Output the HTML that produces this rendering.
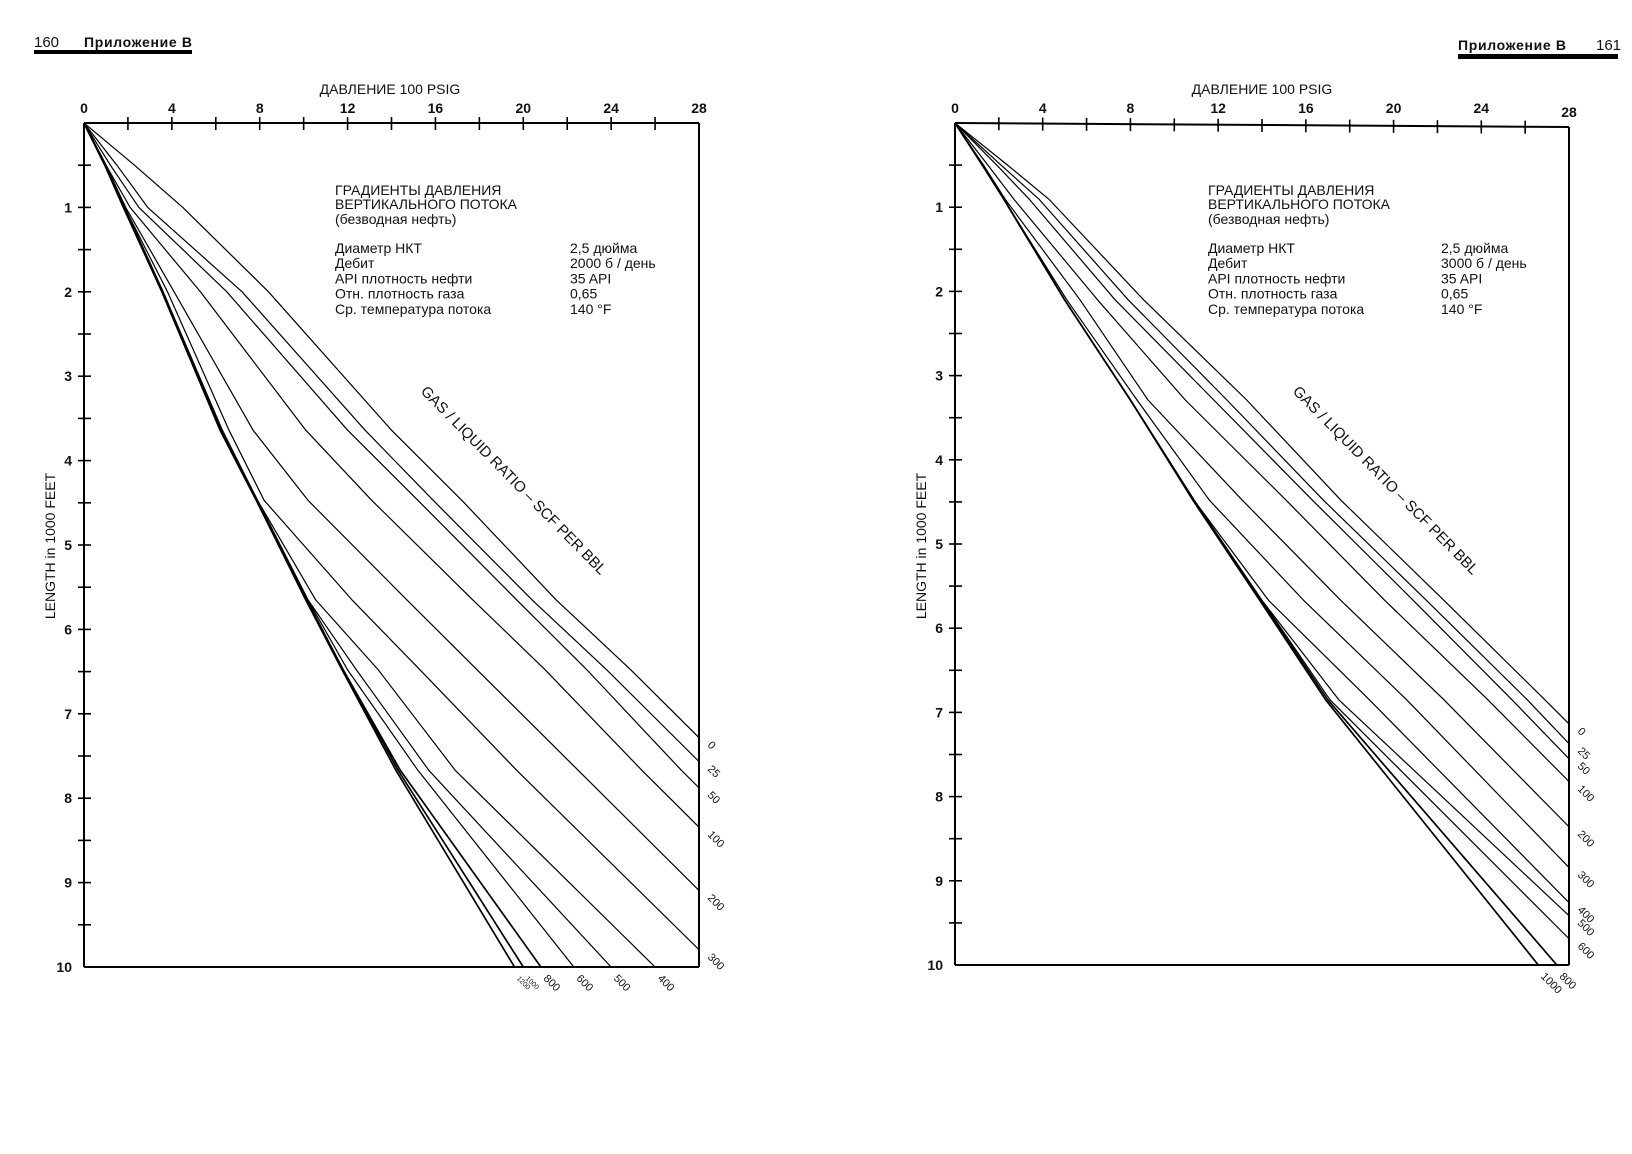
<!DOCTYPE html>
<html><head><meta charset="utf-8">
<style>
html,body{margin:0;padding:0;background:#fff;}
svg{display:block;}
text{font-family:"Liberation Sans",sans-serif;fill:#111;}
</style></head>
<body>
<svg id="chart" width="1632" height="1154" viewBox="0 0 1632 1154" xmlns="http://www.w3.org/2000/svg">
<defs>
<clipPath id="clipL"><rect x="84" y="123" width="615" height="844"/></clipPath>
<clipPath id="clipR"><rect x="955" y="123" width="614" height="842"/></clipPath>
</defs>
<g>
<text x="34" y="47" font-size="15" font-family="Liberation Serif">160</text>
<text x="84" y="47" font-size="14" font-weight="bold" textLength="108">Приложение В</text>
<rect x="34" y="50" width="158" height="4" fill="#000"/>
</g>
<g>
<text x="1458" y="50" font-size="14" font-weight="bold" textLength="108">Приложение В</text>
<text x="1596" y="50" font-size="15" font-family="Liberation Serif">161</text>
<rect x="1458" y="54" width="160" height="5" fill="#000"/>
</g>
<g id="left"></g>
<g id="right"></g>
</svg>
<script>
const NS="http://www.w3.org/2000/svg";
const pressureTicks=[0,4,8,12,16,20,24,28];
const depthTicks=[1,2,3,4,5,6,7,8,9,10];
const glrLeft=["0","25","50","100","200","300","400","500","600","800","1000","1200"];
const depthsLeft=[0,0.5,1,2,3.64,4.47,5.65,6.48,7.67,10];
const pLeft0=[0,2.3,4.5,8.4,14.0,17.2,21.5,24.9,29.5,38.5];
const pLeft25=[0,1.5,2.9,7.2,12.8,15.9,20.4,23.8,28.4,37.5];
const pLeft50=[0,1.2,2.5,6.5,12.0,15.2,19.7,22.9,27.2,36.2];
const pLeft100=[0,1.0,2.1,5.3,10.1,13.1,17.7,21.0,25.4,34.4];
const pLeft200=[0,1.0,1.9,4.1,7.7,10.2,14.7,17.9,22.5,31.5];
const pLeft300=[0,1.0,1.85,3.8,6.6,8.2,12.2,15.3,19.7,28.8];
const pLeft400=[0,1.0,1.85,3.6,6.3,7.9,10.55,13.4,16.9,26.0];
const pLeft500=[0,1.0,1.85,3.6,6.26,7.9,10.2,12.4,15.7,24.0];
const pLeft600=[0,0.95,1.85,3.6,6.26,7.9,10.2,12.0,15.2,22.3];
const pLeft800=[0,0.95,1.8,3.55,6.2,7.85,10.15,11.8,14.4,20.8];
const pLeft1000=[0,0.95,1.8,3.55,6.2,7.85,10.1,11.8,14.3,20.0];
const pLeft1200=[0,0.95,1.8,3.55,6.2,7.85,10.1,11.75,14.2,19.6];
const glrRight=["0","25","50","100","200","300","400","500","600","800","1000"];
const depthsRight=[0,0.5,0.91,2.10,3.29,4.48,5.67,6.85,10];
const pRight0=[0,2.4,4.3,8.6,13.3,17.6,22.3,26.9,39];
const pRight25=[0,2.1,3.85,7.9,12.4,16.8,21.5,26.1,37.6];
const pRight50=[0,1.9,3.4,7.3,11.8,16.3,20.9,25.4,37.1];
const pRight100=[0,1.5,2.7,6.5,10.5,15.1,19.6,24.3,36.3];
const pRight200=[0,1.3,2.3,5.7,8.8,13.1,17.6,22.3,34.2];
const pRight300=[0,1.25,2.24,5.1,8.3,11.6,15.9,20.6,32.3];
const pRight400=[0,1.25,2.24,5.0,8.0,10.9,14.3,18.9,30.8];
const pRight500=[0,1.25,2.24,5.0,8.0,10.9,14.0,17.5,30.4];
const pRight600=[0,1.25,2.24,5.0,8.0,10.9,14.0,17.1,29.2];
const pRight800=[0,1.25,2.24,5.0,8.0,10.9,13.95,17.0,27.45];
const pRight1000=[0,1.25,2.24,5.0,8.0,10.85,13.9,16.9,26.6];
const infoLabels=["Диаметр НКТ","Дебит","API плотность нефти","Отн. плотность газа","Ср. температура потока"];
const infoLeft=["2,5 дюйма","2000 б / день","35 API","0,65","140 °F"];
const infoRight=["2,5 дюйма","3000 б / день","35 API","0,65","140 °F"];

const seriesLeft=[pLeft0,pLeft25,pLeft50,pLeft100,pLeft200,pLeft300,pLeft400,pLeft500,pLeft600,pLeft800,pLeft1000,pLeft1200];
const seriesRight=[pRight0,pRight25,pRight50,pRight100,pRight200,pRight300,pRight400,pRight500,pRight600,pRight800,pRight1000];

function mk(tag,attrs,parent,txt){const e=document.createElementNS(NS,tag);for(const k in attrs)e.setAttribute(k,attrs[k]);if(txt!==undefined)e.textContent=txt;parent.appendChild(e);return e;}

function endPoint(ps,ds){
  for(let i=1;i<ps.length;i++){ if(ps[i]>=28){const t=(28-ps[i-1])/(ps[i]-ps[i-1]);return {p:28,d:ds[i-1]+t*(ds[i]-ds[i-1]),side:"right"};}}
  return {p:ps[ps.length-1],d:ds[ds.length-1],side:"bottom"};
}

function drawChart(g,cfg){
  const X=p=>cfg.x0+p*(cfg.x1-cfg.x0)/28;
  const Y=d=>cfg.y0+d*(cfg.y1-cfg.y0)/10;
  const topY=p=>cfg.y0+p*cfg.topSlope/28;
  // frame
  const top=mk("line",{x1:X(0),y1:topY(0),x2:X(28),y2:topY(28),stroke:"#000","stroke-width":2},g);
  
  
  const lft=mk("line",{x1:X(0),y1:cfg.y0,x2:X(0),y2:Y(10),stroke:"#000","stroke-width":2},g);
  
  
  const rgt=mk("line",{x1:X(28),y1:topY(28),x2:X(28),y2:Y(10),stroke:"#000","stroke-width":2},g);
  
  
  const bot=mk("line",{x1:X(0),y1:Y(10),x2:X(28),y2:Y(10),stroke:"#000","stroke-width":2},g);
  
  
  // x ticks every 2
  for(let p=2;p<28;p+=2){
    const t=mk("line",{x1:X(p),y1:topY(p)-6,x2:X(p),y2:topY(p)+7,stroke:"#000","stroke-width":1.6},g);
    
    
  }
  pressureTicks.forEach(p=>{
    const t=mk("text",{x:X(p),y:cfg.y0-10+(p===28?cfg.topSlope:0),"font-size":14,"font-weight":"bold","text-anchor":"middle"},g,String(p));
    
    
  });
  for(let d=0.5;d<10;d+=0.5){
    const t=mk("line",{x1:X(0)-6,y1:Y(d),x2:X(0)+7,y2:Y(d),stroke:"#000","stroke-width":1.6},g);
    
    
  }
  depthTicks.forEach(d=>{
    const t=mk("text",{x:X(0)-12,y:Y(d)+5,"font-size":14,"font-weight":"bold","text-anchor":"end"},g,String(d));
    
    
  });
  const xt=mk("text",{x:cfg.titleX,y:94,"font-size":14,"text-anchor":"middle"},g,"ДАВЛЕНИЕ 100 PSIG");
  
  
  const yt=mk("text",{x:0,y:0,"font-size":14,"text-anchor":"middle",transform:`translate(${X(0)-29},546) rotate(-90)`},g,"LENGTH in 1000 FEET");
  
  
  // info block
  const ix=cfg.infoX, vx=cfg.valX;
  const h1=mk("text",{x:ix,y:195,"font-size":14},g,"ГРАДИЕНТЫ ДАВЛЕНИЯ");
  
  
  const h2=mk("text",{x:ix,y:209,"font-size":14},g,"ВЕРТИКАЛЬНОГО ПОТОКА");
  
  
  const h3=mk("text",{x:ix,y:224,"font-size":14},g,"(безводная нефть)");
  
  
  infoLabels.forEach((s,i)=>{
    const a=mk("text",{x:ix,y:253+i*15.2,"font-size":14},g,s);
    
    
    const b=mk("text",{x:vx,y:253+i*15.2,"font-size":14},g,cfg.info[i]);
    
    
  });
  const gl=mk("text",{x:0,y:0,"font-size":15,transform:`translate(${cfg.glrX},${cfg.glrY}) rotate(45.5)`},g,"GAS / LIQUID RATIO – SCF PER BBL");
  
  
  // curves
  const cg=mk("g",{"clip-path":`url(#${cfg.clip})`},g);
  
  
  cfg.series.forEach((ps,i)=>{
    const pts=ps.map((p,j)=>X(p).toFixed(1)+","+Y(cfg.depths[j]).toFixed(1)).join(" ");
    const heavy=i>=cfg.heavyFrom;
    const pl=mk("polyline",{points:pts,fill:"none",stroke:"#000","stroke-width":heavy?1.7:1.2,"stroke-linejoin":"round"},cg);
    
    
    const e=endPoint(ps,cfg.depths);
    let lx,ly,fs=11;
    if(e.side==="right"){lx=X(28)+8;ly=Y(e.d)+8;}
    else{lx=X(e.p)+2;ly=Y(10)+12; if(cfg.glr[i]==="1000"||cfg.glr[i]==="1200")fs=cfg.smallBottom?7:11;}
    const t=mk("text",{x:0,y:0,"font-size":fs,transform:`translate(${lx.toFixed(1)},${ly.toFixed(1)}) rotate(45)`},g,cfg.glr[i]);
    
    
  });
}

drawChart(document.getElementById("left"),{x0:84,x1:699,y0:123,y1:967,topSlope:0,clip:"clipL",
  series:seriesLeft,depths:depthsLeft,glr:glrLeft,heavyFrom:9,titleX:390,infoX:335,valX:570,info:infoLeft,glrX:420,glrY:392,smallBottom:true});
drawChart(document.getElementById("right"),{x0:955,x1:1569,y0:123,y1:965,topSlope:4,clip:"clipR",
  series:seriesRight,depths:depthsRight,glr:glrRight,heavyFrom:9,titleX:1262,infoX:1208,valX:1441,info:infoRight,glrX:1292,glrY:392,smallBottom:false});
</script>
</body></html>
